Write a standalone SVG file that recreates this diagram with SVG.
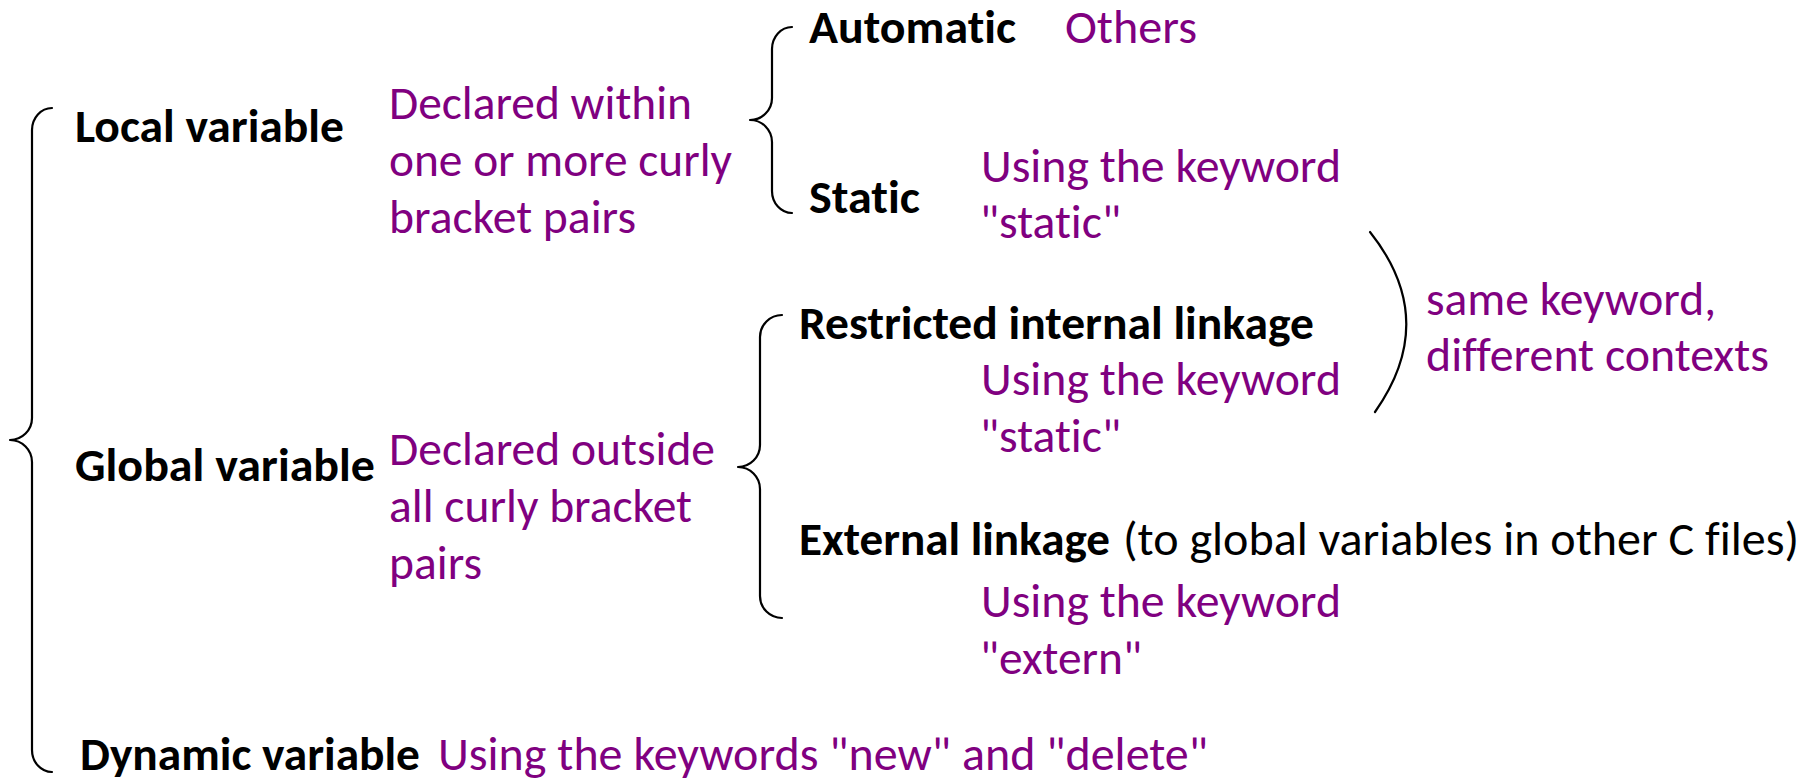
<svg xmlns="http://www.w3.org/2000/svg" width="1810" height="780" viewBox="0 0 1810 780">
  <style>
    text { font-family: Carlito, Lato, "Open Sans", sans-serif; font-size: 47px; font-variant-ligatures: none; font-feature-settings: "liga" 0, "clig" 0; }
    .term { font-weight: 700; fill: #000000; }
    .note { font-weight: 400; fill: #800080; }
    .plain { font-weight: 400; fill: #000000; }
    .brace { fill: none; stroke: #000000; stroke-width: 2.2; stroke-linecap: round; stroke-linejoin: round; }
  </style>
  <rect width="1810" height="780" fill="#ffffff"/>

  <!-- braces grouping the categories -->
  <g id="connectors">
    <!-- main brace: local / global / dynamic -->
    <path class="brace" d="M52,108 A20,22 0 0 0 32,130 L32,418 A22,22 0 0 1 10,440 A22,22 0 0 1 32,462 L32,750 A20,22 0 0 0 52,772"/>
    <!-- local: automatic / static -->
    <path class="brace" d="M792,27 A20,22 0 0 0 772,49 L772,98 A22,22 0 0 1 750,120 A22,22 0 0 1 772,142 L772,191 A20,22 0 0 0 792,213"/>
    <!-- global: restricted internal / external -->
    <path class="brace" d="M782,315 A22,22 0 0 0 760,337 L760,445 A22,22 0 0 1 738,467 A22,22 0 0 1 760,489 L760,596 A22,22 0 0 0 782,618"/>
    <!-- closing bracket tying both "static" uses together -->
    <path class="brace" d="M1370,232 Q1440,320 1375,412"/>
  </g>

  <g id="local-variable">
    <text class="term" x="75" y="142" textLength="269" lengthAdjust="spacingAndGlyphs">Local variable</text>
    <text class="note" x="389" y="119" textLength="303" lengthAdjust="spacingAndGlyphs">Declared within</text>
    <text class="note" x="389" y="176" textLength="343" lengthAdjust="spacingAndGlyphs">one or more curly</text>
    <text class="note" x="389" y="233" textLength="247" lengthAdjust="spacingAndGlyphs">bracket pairs</text>
  </g>

  <g id="automatic">
    <text class="term" x="809" y="43" textLength="207" lengthAdjust="spacingAndGlyphs">Automatic</text>
    <text class="note" x="1065" y="43" textLength="132" lengthAdjust="spacingAndGlyphs">Others</text>
  </g>

  <g id="static">
    <text class="term" x="809" y="213" textLength="111" lengthAdjust="spacingAndGlyphs">Static</text>
    <text class="note" x="981" y="182" textLength="360" lengthAdjust="spacingAndGlyphs">Using the keyword</text>
    <text class="note" x="980" y="238" textLength="141" lengthAdjust="spacingAndGlyphs">"static"</text>
  </g>

  <g id="global-variable">
    <text class="term" x="75" y="481" textLength="300" lengthAdjust="spacingAndGlyphs">Global variable</text>
    <text class="note" x="389" y="465" textLength="326" lengthAdjust="spacingAndGlyphs">Declared outside</text>
    <text class="note" x="389" y="522" textLength="303" lengthAdjust="spacingAndGlyphs">all curly bracket</text>
    <text class="note" x="389" y="579" textLength="93" lengthAdjust="spacingAndGlyphs">pairs</text>
  </g>

  <g id="restricted-internal-linkage">
    <text class="term" x="799" y="339" textLength="515" lengthAdjust="spacingAndGlyphs">Restricted internal linkage</text>
    <text class="note" x="981" y="395" textLength="360" lengthAdjust="spacingAndGlyphs">Using the keyword</text>
    <text class="note" x="980" y="452" textLength="141" lengthAdjust="spacingAndGlyphs">"static"</text>
  </g>

  <g id="external-linkage">
    <text class="term" x="799" y="555" textLength="311" lengthAdjust="spacingAndGlyphs">External linkage</text>
    <text class="plain" x="1123" y="555" textLength="676" lengthAdjust="spacingAndGlyphs">(to global variables in other C files)</text>
    <text class="note" x="981" y="617" textLength="360" lengthAdjust="spacingAndGlyphs">Using the keyword</text>
    <text class="note" x="980" y="674" textLength="162" lengthAdjust="spacingAndGlyphs">"extern"</text>
  </g>

  <g id="same-keyword">
    <text class="note" x="1426" y="315" textLength="290" lengthAdjust="spacingAndGlyphs">same keyword,</text>
    <text class="note" x="1426" y="371" textLength="343" lengthAdjust="spacingAndGlyphs">different contexts</text>
  </g>

  <g id="dynamic-variable">
    <text class="term" x="80" y="770" textLength="340" lengthAdjust="spacingAndGlyphs">Dynamic variable</text>
    <text class="note" x="438" y="770" textLength="770" lengthAdjust="spacingAndGlyphs">Using the keywords "new" and "delete"</text>
  </g>
</svg>
